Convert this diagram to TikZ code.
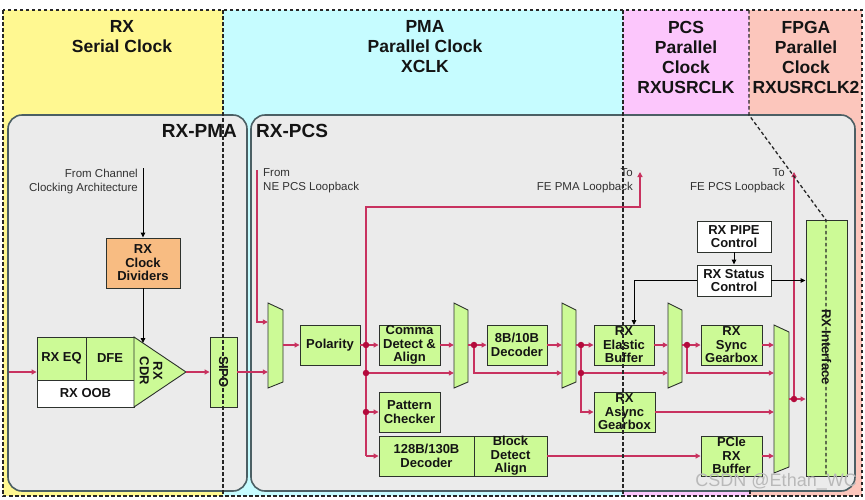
\documentclass[tikz,border=0pt]{standalone}
\usepackage{fontspec}
\setmainfont{Liberation Sans}
\usetikzlibrary{arrows.meta,fit}
\definecolor{cyel}{RGB}{255,248,145}
\definecolor{ccya}{RGB}{198,252,255}
\definecolor{cpnk}{RGB}{252,198,252}
\definecolor{csal}{RGB}{252,198,188}
\definecolor{cgry}{RGB}{235,235,235}
\definecolor{cgbd}{RGB}{75,95,100}
\definecolor{cgrn}{RGB}{204,250,150}
\definecolor{corg}{RGB}{248,188,130}
\definecolor{credl}{RGB}{200,50,95}
\definecolor{cdot}{RGB}{180,10,60}
\definecolor{cbox}{RGB}{45,50,45}
\definecolor{ctxt}{RGB}{20,20,20}
\definecolor{csml}{RGB}{50,50,50}
\newcommand{\muxshape}[5]{%
  \draw[muxs] (#2,#4) -- (#3,#4+7) -- (#3,#5-6) -- (#2,#5) -- cycle;
  \coordinate (#1-a) at (#2,#4);
  \coordinate (#1-b) at (#3,#5);
  \node[fit=(#1-a)(#1-b), inner sep=0pt] (#1) {};
}
\begin{document}
\begin{tikzpicture}[x=1pt,y=-1pt,
  gbox/.style={draw=cbox, line width=0.9pt, fill=cgrn, inner sep=0pt, align=center, text=ctxt, font=\bfseries\fontsize{13}{13.5}\selectfont},
  wbox/.style={gbox, fill=white},
  sz/.style 2 args={minimum width=#1pt, minimum height=#2pt},
  muxs/.style={draw=cbox, line width=0.9pt, fill=cgrn},
  rl/.style={draw=credl, line width=1.2pt},
  ra/.style={rl, -{Triangle[length=5pt,width=5pt]}},
  ba/.style={draw=black, line width=0.9pt, -{Triangle[length=5pt,width=4.5pt]}},
  jdot/.style={circle, fill=cdot, draw=none, inner sep=0pt, minimum size=6.5pt},
  sep/.style={draw=black!85, line width=1.3pt, dash pattern=on 3.5pt off 2.5pt},
  hdr/.style={align=center, text=ctxt, font=\bfseries\fontsize{17.5}{20}\selectfont},
  ttl/.style={text=ctxt, font=\bfseries\fontsize{19}{20}\selectfont, inner sep=0pt},
  sml/.style={text=csml, font=\fontsize{11.5}{14}\selectfont, inner sep=0pt},
  rtxt/.style={rotate=-90, inner sep=0pt, align=center, text=ctxt, font=\bfseries\fontsize{13}{13.5}\selectfont},
  panel/.style={draw=cgbd, line width=1.6pt, fill=cgry, rounded corners=14pt},
]
\useasboundingbox (0,0) rectangle (865,499);
\fill[white] (0,0) rectangle (865,499);
\fill[cyel] (3,10) rectangle (223,496);
\fill[ccya] (223,10) rectangle (623,496);
\fill[cpnk] (623,10) rectangle (749,496);
\fill[csal] (749,10) rectangle (862,496);

\draw[panel] (8,115) rectangle (247,491);
\draw[panel] (251,115) rectangle (855,491);

\node[hdr] (h1) at (122,37) {RX\\Serial Clock};
\node[hdr] (h2) at (425,47) {PMA\\Parallel Clock\\XCLK};
\node[hdr] (h3) at (686,57) {PCS\\Parallel\\Clock\\RXUSRCLK};
\node[hdr] (h4) at (806,57) {FPGA\\Parallel\\Clock\\RXUSRCLK2};

\node[ttl, anchor=east] (tpma) at (237,131) {RX-PMA};
\node[ttl, anchor=west] (tpcs) at (256,131) {RX-PCS};

\node[sml, anchor=east, align=right] (fromch) at (138,182) {From Channel\\Clocking Architecture};
\node[sml, anchor=west, align=left] (fromne) at (263,181) {From\\NE PCS Loopback};
\node[sml, anchor=east, align=right] (tofepma) at (633,181) {To\\FE PMA Loopback};
\node[sml, anchor=east, align=right] (tofepcs) at (785,181) {To\\FE PCS Loopback};

\coordinate (y322) at (0,322);
\coordinate (y373) at (0,373);

% PMA
\coordinate (chin) at (143,168);
\node[gbox, fill=corg, sz={74}{50}] (clk) at (143,263) {RX\\Clock\\Dividers};
\draw[ba] (chin) -- (clk.north);
\node[gbox, sz={49}{43}] (eq) at (61.5,358.5) {RX EQ};
\node[gbox, sz={48}{43}] (dfe) at (110,358.5) {DFE};
\node[wbox, sz={97}{27}] (oob) at (85.5,393.5) {RX OOB};
\draw[muxs] (134,337) -- (186,372) -- (134,407) -- cycle;
\node[rtxt] (cdr) at (151,371) {RX\\CDR};
\coordinate (cdrtip) at (186,372);
\coordinate (cdrtop) at (143,343);
\draw[ba] (clk.south) -- (cdrtop);
\coordinate (rxin) at (9,372);
\draw[ra] (rxin) -- (rxin -| eq.west);
\node[gbox, sz={27}{70}] (sipo) at (223.5,372) {};
\node[rtxt] (sipot) at (sipo) {SIPO};
\draw[ra] (cdrtip) -- (sipo.west);

% PCS
\muxshape{m1}{268}{283}{303}{388}
\draw[ra] (sipo.east) -- (sipo.east -| m1.west);
\coordinate (nein) at (257,170);
\draw[ra] (nein) |- (m1.west |- y322);
\node[gbox, sz={60}{40}] (pol) at (330,345) {Polarity};
\draw[ra] (m1.east |- pol.west) -- (pol.west);
\node[jdot] (d1) at (366,345) {};
\node[jdot] (d2) at (366,373) {};
\node[jdot] (d3) at (366,412) {};
\coordinate (lpa) at (366,207);
\coordinate (fepma) at (640,172);
\coordinate (lpc) at (366,456);
\node[gbox, sz={61}{40}] (comma) at (409.5,345) {Comma\\Detect \&\\Align};
\node[gbox, sz={61}{40}] (pat) at (409.5,412) {Pattern\\Checker};
\node[gbox, sz={95}{40}] (d128) at (426.5,456) {128B/130B\\Decoder};
\node[gbox, sz={73}{40}] (blk) at (510.5,456) {Block\\Detect\\Align};
\draw[rl] (pol.east) -- (d1);
\draw[ra] (d1) -- (comma.west);
\draw[rl] (d1) -- (d2) -- (d3) -- (lpc);
\draw[ra] (lpc) -- (d128.west);
\draw[ra] (d1) -- (lpa) -| (fepma);
\draw[ra] (d3) -- (pat.west);
\muxshape{m2}{454}{468}{303}{388}
\draw[ra] (comma.east) -- (comma.east -| m2.west);
\draw[ra] (d2) -- (d2 -| m2.west);
\node[jdot] (d4) at (474,345) {};
\draw[rl] (m2.east |- d4) -- (d4);
\node[gbox, sz={60}{40}] (dec8) at (517,345) {8B/10B\\Decoder};
\draw[ra] (d4) -- (dec8.west);
\muxshape{m3}{562}{576}{303}{388}
\draw[ra] (d4) |- (m3.west |- y373);
\draw[ra] (dec8.east) -- (dec8.east -| m3.west);
\node[jdot] (d5) at (581,345) {};
\node[jdot] (d6) at (581,373) {};
\draw[rl] (m3.east |- d5) -- (d5);
\node[gbox, sz={60}{40}] (elas) at (624,345) {RX\\Elastic\\Buffer};
\node[gbox, sz={61}{40}] (async) at (624.5,412) {RX\\Async\\Gearbox};
\draw[ra] (d5) -- (elas.west);
\draw[rl] (d5) -- (d6);
\draw[ra] (d6) |- (async.west);
\muxshape{m4}{668}{682}{303}{388}
\draw[ra] (d6) -- (d6 -| m4.west);
\draw[ra] (elas.east) -- (elas.east -| m4.west);
\node[jdot] (d7) at (687,345) {};
\draw[rl] (m4.east |- d7) -- (d7);
\node[gbox, sz={61}{40}] (sync) at (731.5,345) {RX\\Sync\\Gearbox};
\draw[ra] (d7) -- (sync.west);
\muxshape{m5}{774}{789}{325}{473}
\draw[ra] (d7) |- (m5.west |- y373);
\draw[ra] (sync.east) -- (sync.east -| m5.west);
\draw[ra] (async.east) -- (async.east -| m5.west);
\node[gbox, sz={61}{40}] (pcie) at (731.5,456) {PCIe\\RX\\Buffer};
\draw[ra] (blk.east) -- (pcie.west);
\draw[ra] (pcie.east) -- (pcie.east -| m5.west);
\node[gbox, sz={41}{256}] (rxif) at (826.5,348) {};
\node[rtxt] (rxift) at (826.5,347) {RX Interface};
\node[jdot] (d8) at (794,399) {};
\draw[rl] (m5.east |- d8) -- (d8);
\draw[ra] (d8) -- (d8 -| rxif.west);
\coordinate (fepcs) at (794,172);
\draw[ra] (d8) -- (fepcs);
\node[wbox, sz={74}{31}] (pipe) at (734,236.5) {RX PIPE\\Control};
\node[wbox, sz={74}{31}] (stat) at (734,280.5) {RX Status\\Control};
\draw[ba] (pipe) -- (stat);
\draw[ba] (stat.east) -- (stat.east -| rxif.west);
\coordinate (elasin) at (634,325);
\draw[ba] (stat.west) -| (elasin);

% clock domain separators
\draw[sep] (3,10) rectangle (862,496);
\draw[sep] (223,10) -- (223,496);
\draw[sep] (623,10) -- (623,496);
\draw[sep] (749,10) -- (749,115) -- (826,220) -- (826,476);
\draw[sep] (750,490) -- (750,496);

\node[text=gray!55, font=\fontsize{18}{18}\selectfont, anchor=east, inner sep=0pt] (wm) at (857,482) {CSDN @Ethan\_WC};
\end{tikzpicture}
\end{document}
